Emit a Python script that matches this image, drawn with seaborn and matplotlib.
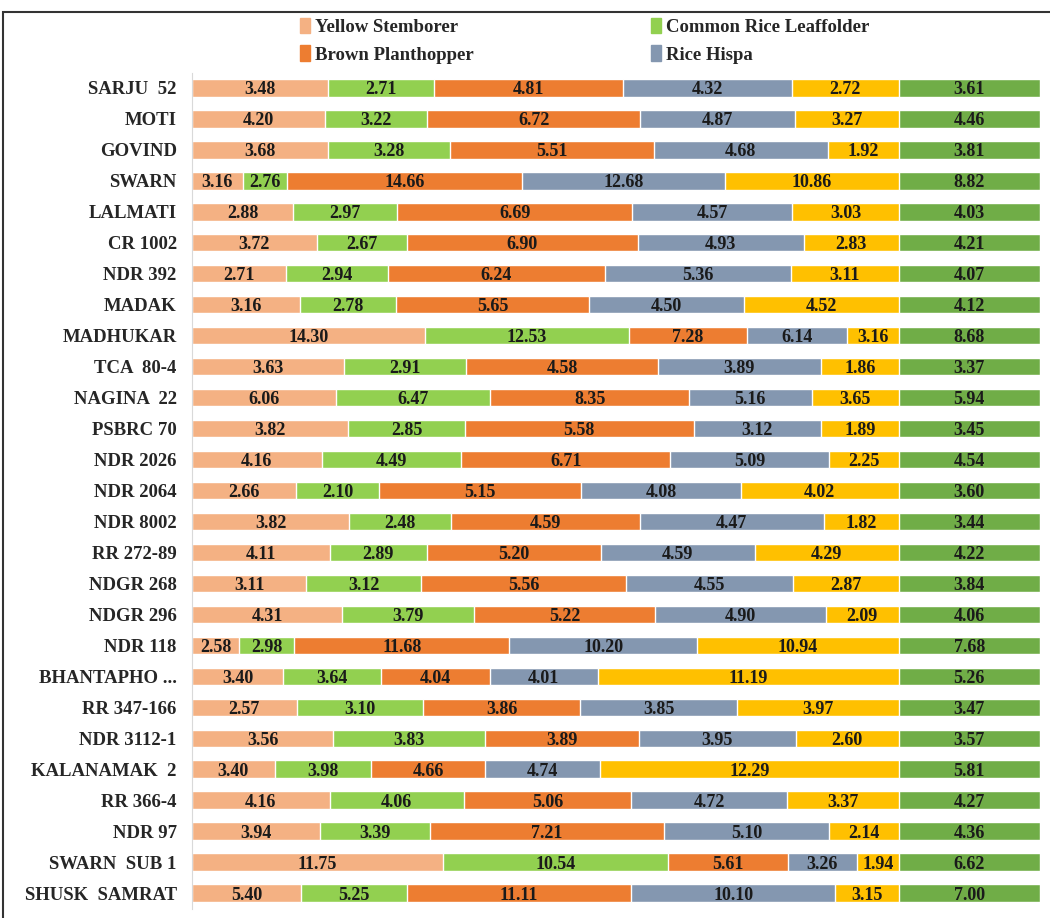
import matplotlib
matplotlib.use("Agg")
import matplotlib.pyplot as plt
import matplotlib.patches as mpatches
import numpy as np
import pandas as pd
import seaborn as sns

varieties = ["SARJU  52", "MOTI", "GOVIND", "SWARN", "LALMATI", "CR 1002", "NDR 392",
             "MADAK", "MADHUKAR", "TCA  80-4", "NAGINA  22", "PSBRC 70", "NDR 2026",
             "NDR 2064", "NDR 8002", "RR 272-89", "NDGR 268", "NDGR 296", "NDR 118",
             "BHANTAPHO ...", "RR 347-166", "NDR 3112-1", "KALANAMAK  2", "RR 366-4",
             "NDR 97", "SWARN  SUB 1", "SHUSK  SAMRAT"]

yellow_stemborer = [3.48, 4.20, 3.68, 3.16, 2.88, 3.72, 2.71, 3.16, 14.30, 3.63, 6.06, 3.82, 4.16,
                    2.66, 3.82, 4.11, 3.11, 4.31, 2.58, 3.40, 2.57, 3.56, 3.40, 4.16, 3.94, 11.75, 5.40]
leaffolder = [2.71, 3.22, 3.28, 2.76, 2.97, 2.67, 2.94, 2.78, 12.53, 2.91, 6.47, 2.85, 4.49,
              2.10, 2.48, 2.89, 3.12, 3.79, 2.98, 3.64, 3.10, 3.83, 3.98, 4.06, 3.39, 10.54, 5.25]
planthopper = [4.81, 6.72, 5.51, 14.66, 6.69, 6.90, 6.24, 5.65, 7.28, 4.58, 8.35, 5.58, 6.71,
               5.15, 4.59, 5.20, 5.56, 5.22, 11.68, 4.04, 3.86, 3.89, 4.66, 5.06, 7.21, 5.61, 11.11]
rice_hispa = [4.32, 4.87, 4.68, 12.68, 4.57, 4.93, 5.36, 4.50, 6.14, 3.89, 5.16, 3.12, 5.09,
              4.08, 4.47, 4.59, 4.55, 4.90, 10.20, 4.01, 3.85, 3.95, 4.74, 4.72, 5.10, 3.26, 10.10]
gundhi_bug = [2.72, 3.27, 1.92, 10.86, 3.03, 2.83, 3.11, 4.52, 3.16, 1.86, 3.65, 1.89, 2.25,
              4.02, 1.82, 4.29, 2.87, 2.09, 10.94, 11.19, 3.97, 2.60, 12.29, 3.37, 2.14, 1.94, 3.15]
mean_vals = [3.61, 4.46, 3.81, 8.82, 4.03, 4.21, 4.07, 4.12, 8.68, 3.37, 5.94, 3.45, 4.54,
             3.60, 3.44, 4.22, 3.84, 4.06, 7.68, 5.26, 3.47, 3.57, 5.81, 4.27, 4.36, 6.62, 7.00]

series = ["Yellow Stemborer", "Common Rice Leaffolder", "Brown Planthopper", "Rice Hispa",
          "Gundhi Bug", "Mean"]
colors = ["#F4B183", "#92D050", "#ED7D31", "#8497B0", "#FFC000", "#70AD47"]

df = pd.DataFrame(dict(zip(series, [yellow_stemborer, leaffolder, planthopper, rice_hispa,
                                    gundhi_bug, mean_vals])), index=varieties)
share = df.div(df.sum(axis=1), axis=0)
cum = share.cumsum(axis=1)

sns.set_style("white")
plt.rcParams["font.family"] = ["Liberation Serif", "DejaVu Serif"]

fig = plt.figure(figsize=(10.5, 9.18), dpi=100)
ax = fig.add_axes([192 / 1050, 1 - 908.5 / 918, 848 / 1050, (908.5 - 72.5) / 918])

# draw from the full stack down so each layer shows its own segment
for name, col in reversed(list(zip(series, colors))):
    sns.barplot(x=cum[name].values, y=varieties, orient="h", color=col,
                width=0.56, saturation=1, ax=ax)

for i, v in enumerate(varieties):
    for name in series:
        centre = cum.loc[v, name] - share.loc[v, name] / 2
        ax.text(centre, i, f"{df.loc[v, name]:.2f}", ha="center", va="center_baseline",
                fontsize=13, fontweight="bold", color="#1a1a1a")

ax.set_xlim(0, 1)
ax.set_ylim(len(varieties) - 0.5, -0.5)
ax.set_xlabel("")
ax.set_ylabel("")
ax.set_xticks([])
ax.tick_params(axis="y", length=0, pad=11)
for lab in ax.get_yticklabels():
    lab.set_fontweight("bold")
    lab.set_fontsize(13.5)
    lab.set_verticalalignment("center_baseline")
sns.despine(ax=ax, top=True, right=True, bottom=True)
ax.spines["left"].set_color("#d9d9d9")

# legend is filled column by column, so order handles for row-wise reading
order = [0, 2, 1, 3]
handles = [mpatches.Patch(color=colors[k]) for k in order]
fig.legend(handles, [series[k] for k in order], ncol=2, loc="upper left",
           bbox_to_anchor=(0.270, 0.999), frameon=False,
           prop={"weight": "bold", "size": 13.5}, handlelength=0.5,
           handleheight=0.9, handletextpad=0.3, columnspacing=9.45, labelspacing=0.5)

fig.add_artist(mpatches.Rectangle((3 / 1050, -0.05), 1.2, 1 - 12 / 918 + 0.05,
                                  transform=fig.transFigure, fill=False,
                                  edgecolor="#333333", linewidth=1.5))

fig.savefig("out.png", dpi=100)
